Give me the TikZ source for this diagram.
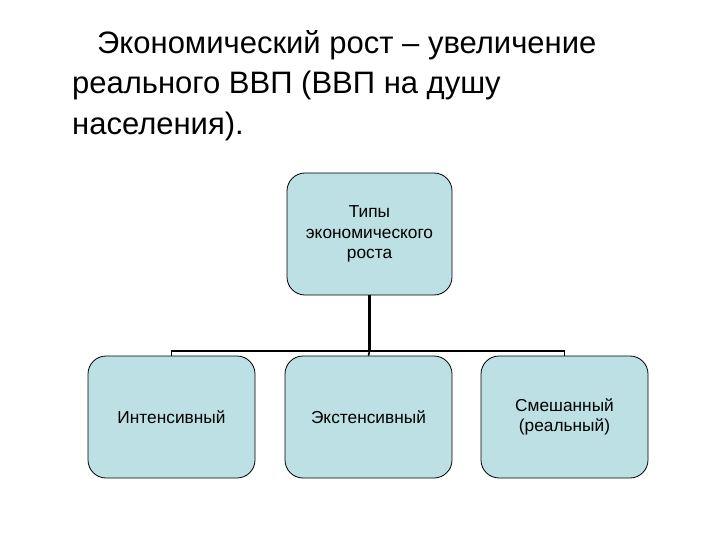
\documentclass[tikz,border=0pt]{standalone}
\usepackage{fontspec}
\setmainfont{Liberation Sans}
\begin{document}
\begin{tikzpicture}[x=1pt,y=-1pt,
 boxst/.style={draw=black,line width=0.8pt,fill=boxfill,rounded corners=18pt,minimum width=167pt,minimum height=122pt,align=center,font=\fontsize{17.3}{20.5}\selectfont,inner sep=2pt},
 conn/.style={line width=2.2pt,black}]
\definecolor{boxfill}{HTML}{BCE0E3}
\useasboundingbox (0,0) rectangle (720,540);
\node[anchor=north west,align=left,font=\fontsize{31}{40.5}\selectfont,inner sep=0pt] (title) at (72,30)
 {\hspace*{25pt}Экономический рост – увеличение\\реального ВВП (ВВП на душу\\населения).};
\node[boxst,minimum width=165pt] (top) at (369.5,234) {Типы\\экономического\\роста};
\node[boxst] (a) at (171.5,417) {Интенсивный};
\node[boxst] (b) at (368.5,417) {Экстенсивный};
\node[boxst] (c) at (564.5,417) {Смешанный\\(реальный)};
\coordinate (hub) at (top.south |- 0,351);
\draw[conn] (top.south) -- (hub);
\draw[line width=1.6pt] (a.north) -- (a.north |- hub) -- (c.north |- hub) -- (c.north);
\draw[line width=1.6pt] (b.north) -- (hub);
\end{tikzpicture}
\end{document}
